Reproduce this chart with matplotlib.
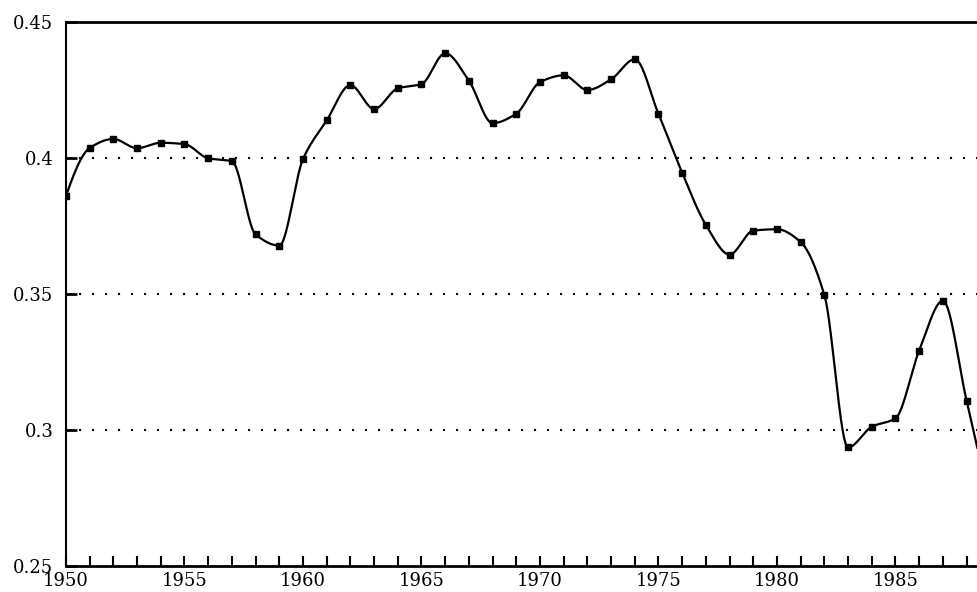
import numpy as np
import matplotlib
matplotlib.use("Agg")
import matplotlib.pyplot as plt
from matplotlib.ticker import MultipleLocator, FixedLocator

years = list(range(1950, 1990))
values = [0.3861, 0.4037, 0.4070, 0.4036, 0.4056, 0.4051, 0.3999, 0.3988,
          0.3719, 0.3678, 0.3996, 0.4138, 0.4268, 0.4180, 0.4256, 0.4272,
          0.4385, 0.4284, 0.4128, 0.4163, 0.4279, 0.4304, 0.4250, 0.4289,
          0.4363, 0.4162, 0.3946, 0.3754, 0.3645, 0.3733, 0.3738, 0.3691,
          0.3496, 0.2936, 0.3012, 0.3043, 0.3292, 0.3475, 0.3108, 0.2720]
y_ticks = [0.25, 0.3, 0.35, 0.4, 0.45]
y_tick_labels = ["0.25", "0.3", "0.35", "0.4", "0.45"]
grid_levels = [0.3, 0.35, 0.4]
x_major = [1950, 1955, 1960, 1965, 1970, 1975, 1980, 1985]


def pchip(x, y, xs):
    x = np.asarray(x, float)
    y = np.asarray(y, float)
    n = len(x)
    h = np.diff(x)
    delta = np.diff(y) / h
    d = np.zeros(n)
    for k in range(1, n - 1):
        if delta[k - 1] * delta[k] > 0:
            w1 = 2 * h[k] + h[k - 1]
            w2 = h[k] + 2 * h[k - 1]
            d[k] = (w1 + w2) / (w1 / delta[k - 1] + w2 / delta[k])
    # end points (three-point formula, shape preserving)
    def end(h0, h1, d0, d1):
        dd = ((2 * h0 + h1) * d0 - h0 * d1) / (h0 + h1)
        if np.sign(dd) != np.sign(d0):
            dd = 0.0
        elif np.sign(d0) != np.sign(d1) and abs(dd) > abs(3 * d0):
            dd = 3 * d0
        return dd
    d[0] = end(h[0], h[1], delta[0], delta[1])
    d[-1] = end(h[-1], h[-2], delta[-1], delta[-2])
    idx = np.clip(np.searchsorted(x, xs) - 1, 0, n - 2)
    t = (xs - x[idx]) / h[idx]
    h00 = 2 * t ** 3 - 3 * t ** 2 + 1
    h10 = t ** 3 - 2 * t ** 2 + t
    h01 = -2 * t ** 3 + 3 * t ** 2
    h11 = t ** 3 - t ** 2
    return (h00 * y[idx] + h10 * h[idx] * d[idx]
            + h01 * y[idx + 1] + h11 * h[idx] * d[idx + 1])


fig = plt.figure(figsize=(9.77, 5.92), dpi=100)
ax = fig.add_axes([66 / 977, 1 - 566 / 592, 1 - 66 / 977, (566 - 22) / 592])

xs = np.linspace(years[0], years[-1], 2000)
ax.plot(xs, pchip(years, values, xs), color="black", lw=1.6, zorder=3)
ax.plot(years, values, linestyle="none", marker="s", ms=4.6, color="black", zorder=4)

for g in grid_levels:
    ax.axhline(g, color="black", lw=1.5, linestyle=(0, (1, 5.24)), zorder=1)

ax.set_xlim(1950, 1988.44)
ax.set_ylim(0.25, 0.45)

ax.xaxis.set_major_locator(FixedLocator(x_major))
ax.xaxis.set_minor_locator(MultipleLocator(1))
ax.set_yticks(y_ticks)
ax.set_yticklabels(y_tick_labels)

for lab in ax.get_xticklabels() + ax.get_yticklabels():
    lab.set_fontfamily("DejaVu Serif")
    lab.set_fontsize(13)

ax.tick_params(axis="x", which="both", direction="in", length=7, width=1.5,
               pad=4, top=False)
ax.tick_params(axis="y", which="both", direction="in", length=8, width=2,
               pad=9, right=False)

ax.spines["right"].set_visible(False)
ax.spines["top"].set_linewidth(2)
ax.spines["bottom"].set_linewidth(2)
ax.spines["left"].set_linewidth(1.5)

fig.savefig("out.png", dpi=100)
